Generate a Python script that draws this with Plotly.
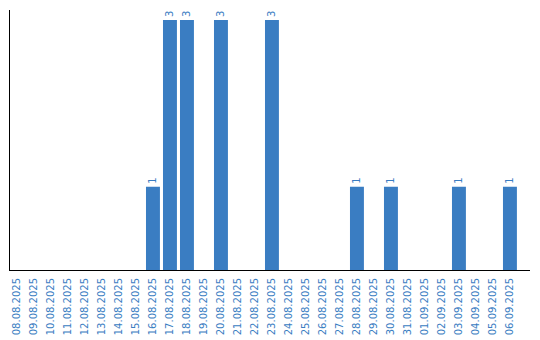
import plotly.graph_objects as go

dates = ["08.08.2025", "09.08.2025", "10.08.2025", "11.08.2025", "12.08.2025",
         "13.08.2025", "14.08.2025", "15.08.2025", "16.08.2025", "17.08.2025",
         "18.08.2025", "19.08.2025", "20.08.2025", "21.08.2025", "22.08.2025",
         "23.08.2025", "24.08.2025", "25.08.2025", "26.08.2025", "27.08.2025",
         "28.08.2025", "29.08.2025", "30.08.2025", "31.08.2025", "01.09.2025",
         "02.09.2025", "03.09.2025", "04.09.2025", "05.09.2025", "06.09.2025"]
counts = [0, 0, 0, 0, 0, 0, 0, 0, 1, 3,
          3, 0, 3, 0, 0, 3, 0, 0, 0, 0,
          1, 0, 1, 0, 0, 0, 1, 0, 0, 1]

color = "#3a7dc2"
labels = [str(v) if v else "" for v in counts]

fig = go.Figure(go.Bar(
    x=list(range(len(dates))), y=counts,
    marker=dict(color=color, line=dict(width=0)),
    width=0.82,
    text=labels, textposition="outside", textangle=-90,
    textfont=dict(family="DejaVu Sans", size=10, color=color),
    cliponaxis=False,
))

fig.update_layout(
    width=540, height=340,
    margin=dict(l=10, r=10, t=10, b=70, autoexpand=False),
    paper_bgcolor="white", plot_bgcolor="white",
    showlegend=False,
    xaxis=dict(
        tickmode="array", tickvals=list(range(len(dates))), ticktext=dates,
        tickangle=-90, range=[-0.41, 30.18], automargin=False,
        showline=True, linecolor="black", linewidth=1,
        showgrid=False, zeroline=False, ticks="", ticklabelstandoff=3,
        tickfont=dict(family="DejaVu Sans", size=10, color=color),
    ),
    yaxis=dict(
        range=[0, 3.12], showline=True, linecolor="black", linewidth=1,
        showgrid=False, zeroline=False, showticklabels=False, ticks="",
        automargin=False,
    ),
)

fig.write_html("out.html")
